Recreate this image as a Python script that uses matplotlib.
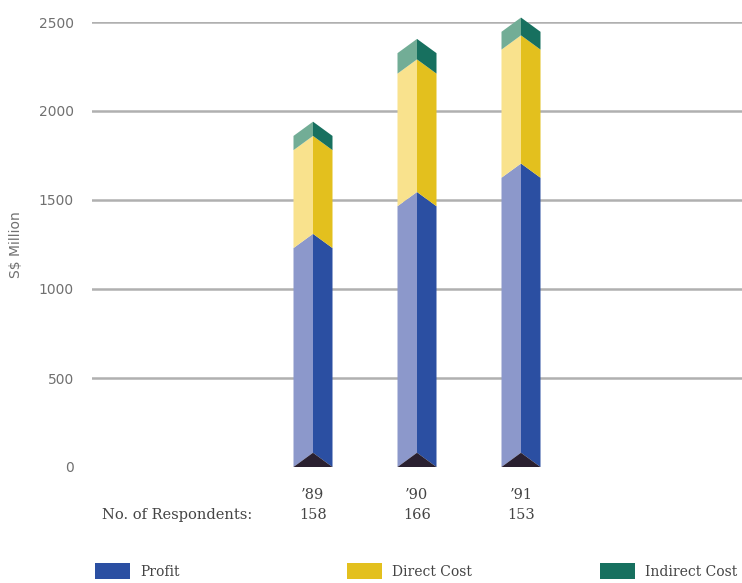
import matplotlib
matplotlib.use("Agg")
import matplotlib.pyplot as plt
from matplotlib.patches import Polygon, Rectangle

# data (S$ million)
years = ["\u201989", "\u201990", "\u201991"]
respondents = ["158", "166", "153"]
profit = [1230, 1465, 1625]
direct_cost = [550, 745, 720]
indirect_cost = [80, 115, 100]

series = [
    ("Profit", profit, "#8c98cb", "#2b4fa2"),
    ("Direct Cost", direct_cost, "#f9e28d", "#e3c01e"),
    ("Indirect Cost", indirect_cost, "#72ad96", "#17705f"),
]

half_w = 0.1875   # half bar width in category units
tip = 80          # chevron rise in data units

fig = plt.figure(figsize=(7.42, 5.83), dpi=100)
ax = fig.add_axes([92 / 742, (583 - 467) / 583, 650 / 742, (467 - 22) / 583])
ax.set_xlim(-2.125, 4.125)
ax.set_ylim(0, 2500)

# grid lines
for v in [500, 1000, 1500, 2000, 2500]:
    ax.axhline(v, color="#b0b0b0", linewidth=1.8, zorder=0)

for i in range(len(years)):
    base = 0
    for name, vals, light, dark in series:
        top = base + vals[i]
        left = Polygon([(i - half_w, base), (i, base + tip), (i, top + tip), (i - half_w, top)],
                       closed=True, facecolor=light, edgecolor="none", clip_on=False, zorder=2)
        right = Polygon([(i, base + tip), (i + half_w, base), (i + half_w, top), (i, top + tip)],
                        closed=True, facecolor=dark, edgecolor="none", clip_on=False, zorder=2)
        ax.add_patch(left)
        ax.add_patch(right)
        base = top
    # dark base triangle
    ax.add_patch(Polygon([(i - half_w, 0), (i, tip), (i + half_w, 0)], closed=True,
                         facecolor="#2a2030", edgecolor="none", clip_on=False, zorder=3))

for s in ax.spines.values():
    s.set_visible(False)
ax.set_yticks([0, 500, 1000, 1500, 2000, 2500])
ax.set_yticklabels(["0", "500", "1000", "1500", "2000", "2500"])
ax.tick_params(axis="y", length=0, pad=13, labelsize=10, labelcolor="#707070")
ax.set_xticks([])
fig.text(16 / 742, (583 - 245) / 583, "S$ Million", rotation=90, ha="center", va="center",
         fontsize=10, color="#707070")

serif = "DejaVu Serif"
txt = "#444444"
for i in range(len(years)):
    ax.text(i, -155, years[i], ha="center", va="center", fontsize=10.5, family=serif, color=txt)
    ax.text(i, -270, respondents[i], ha="center", va="center", fontsize=10.5, family=serif, color=txt)
ax.text(-2.03, -270, "No. of Respondents:", ha="left", va="center", fontsize=10.5, family=serif,
        color=txt)

# legend along the bottom
legend_x = [95, 347, 600]
for (name, vals, light, dark), lx in zip(series, legend_x):
    fig.add_artist(Rectangle((lx / 742, (583 - 579) / 583), 35 / 742, 16 / 583,
                             transform=fig.transFigure, facecolor=dark, edgecolor="none"))
    fig.text((lx + 45) / 742, (583 - 572) / 583, name, ha="left", va="center", fontsize=10,
             family=serif, color=txt)

fig.savefig("out.png", dpi=100)
